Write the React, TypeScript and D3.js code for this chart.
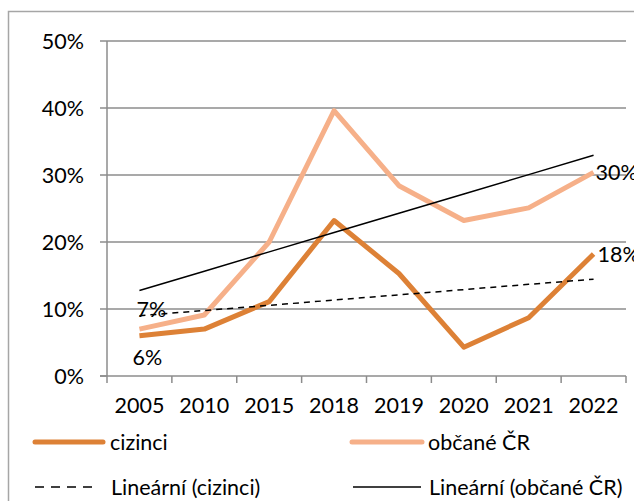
import * as d3 from "d3";
import * as React from "react";

const years = ["2005", "2010", "2015", "2018", "2019", "2020", "2021", "2022"];
const cizinci = [6, 7, 11.1, 23.2, 15.3, 4.3, 8.7, 18.2];
const obcane = [7, 9.1, 20, 39.6, 28.4, 23.2, 25.1, 30.4];
const yTicks = [0, 10, 20, 30, 40, 50];

const darkOrange = "#DD8136";
const lightOrange = "#F6B089";
const font = "Lato, 'Open Sans', sans-serif";

// least squares trend over index 1..n, like Excel's linear trendline
function trend(values: number[]) {
  const xs = values.map((_, i) => i + 1);
  const mx = d3.mean(xs)!;
  const my = d3.mean(values)!;
  const num = d3.sum(xs, (x, i) => (x - mx) * (values[i] - my));
  const den = d3.sum(xs, (x) => (x - mx) * (x - mx));
  const slope = num / den;
  return xs.map((x) => my + slope * (x - mx));
}

export default function App() {
  const width = 634;
  const height = 501;
  const left = 107;
  const right = 626;
  const top = 41;
  const bottom = 376;

  const x = d3.scaleBand<string>().domain(years).range([left, right]);
  const y = d3.scaleLinear().domain([0, 50]).range([bottom, top]);
  const cx = (i: number) => x(years[i])! + x.bandwidth() / 2;

  const line = d3
    .line<number>()
    .x((_, i) => cx(i))
    .y((d) => y(d));

  const trendC = trend(cizinci);
  const trendO = trend(obcane);
  const last = years.length - 1;
  const fs = 21.5;

  return (
    <svg
      width={width}
      height={height}
      style={{ position: "fixed", left: 0, top: 0, background: "#fff" }}
      fontFamily={font}
    >
      <rect x={8.5} y={11.5} width={700} height={600} fill="#fff" stroke="#a6a6a6" strokeWidth={1.5} />

      {/* gridlines */}
      {yTicks.slice(1).map((t) => (
        <line key={t} x1={left} x2={right} y1={y(t)} y2={y(t)} stroke="#8c8c8c" strokeWidth={1.5} />
      ))}
      {/* axes */}
      <line x1={left} x2={left} y1={top} y2={bottom} stroke="#8c8c8c" strokeWidth={1.5} />
      <line x1={left - 7} x2={right} y1={bottom} y2={bottom} stroke="#8c8c8c" strokeWidth={1.5} />
      {yTicks.map((t) => (
        <g key={t}>
          <line x1={left - 7} x2={left} y1={y(t)} y2={y(t)} stroke="#8c8c8c" strokeWidth={1.5} />
          <text x={84} y={y(t)} dy="0.35em" textAnchor="end" fontSize={fs} fill="#000">
            {t}%
          </text>
        </g>
      ))}
      {years.map((yr, i) => (
        <g key={yr}>
          <line x1={x(yr)!} x2={x(yr)!} y1={bottom} y2={bottom + 7} stroke="#8c8c8c" strokeWidth={1.5} />
          <text x={cx(i)} y={413} textAnchor="middle" fontSize={fs} fill="#000">
            {yr}
          </text>
        </g>
      ))}
      <line x1={right} x2={right} y1={bottom} y2={bottom + 7} stroke="#8c8c8c" strokeWidth={1.5} />

      {/* series */}
      <path d={line(obcane)!} fill="none" stroke={lightOrange} strokeWidth={5} strokeLinejoin="round" />
      <path d={line(cizinci)!} fill="none" stroke={darkOrange} strokeWidth={5} strokeLinejoin="round" />
      <path d={line(trendC)!} fill="none" stroke="#000" strokeWidth={1.5} strokeDasharray="6,5" />
      <path d={line(trendO)!} fill="none" stroke="#000" strokeWidth={1.5} />

      {/* data labels */}
      <text x={cx(0) + 12} y={y(obcane[0]) - 12} textAnchor="middle" fontSize={fs}>
        {obcane[0].toFixed(0)}%
      </text>
      <text x={cx(0) + 8} y={y(cizinci[0]) + 29} textAnchor="middle" fontSize={fs}>
        {cizinci[0].toFixed(0)}%
      </text>
      <text x={cx(last) + 2} y={y(obcane[last])} dy="0.35em" fontSize={fs}>
        {obcane[last].toFixed(0)}%
      </text>
      <text x={cx(last) + 4} y={y(cizinci[last])} dy="0.35em" fontSize={fs}>
        {cizinci[last].toFixed(0)}%
      </text>

      {/* legend */}
      <line x1={35} x2={103} y1={442} y2={442} stroke={darkOrange} strokeWidth={5} strokeLinecap="round" />
      <text x={110} y={442} dy="0.35em" fontSize={fs}>cizinci</text>
      <line x1={352} x2={422} y1={442} y2={442} stroke={lightOrange} strokeWidth={5} strokeLinecap="round" />
      <text x={428} y={442} dy="0.35em" fontSize={fs}>občané ČR</text>
      <line x1={35} x2={99} y1={487} y2={487} stroke="#000" strokeWidth={1.5} strokeDasharray="9,7" />
      <text x={111} y={487} dy="0.35em" fontSize={fs}>Lineární (cizinci)</text>
      <line x1={353} x2={421} y1={487} y2={487} stroke="#000" strokeWidth={1.5} />
      <text x={429} y={487} dy="0.35em" fontSize={fs}>Lineární (občané ČR)</text>
    </svg>
  );
}
